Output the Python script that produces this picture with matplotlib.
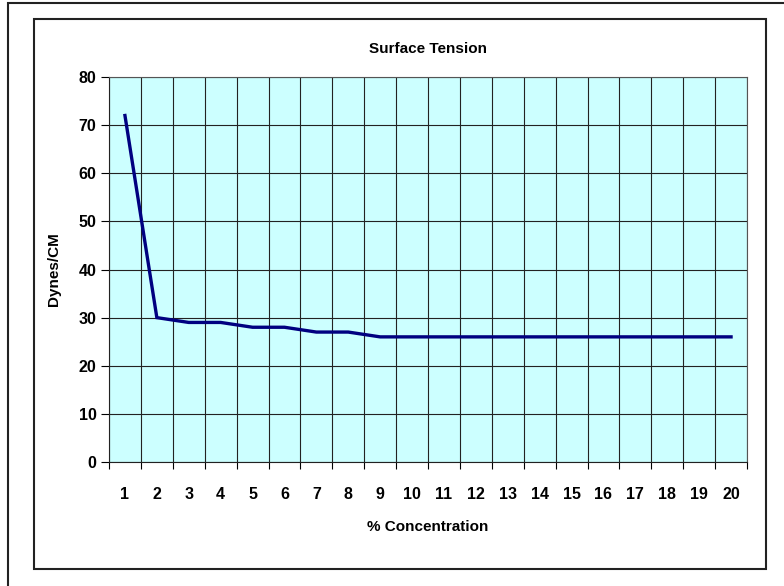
import matplotlib.pyplot as plt
import numpy as np
from matplotlib.patches import Rectangle

plt.rcParams['font.family'] = ['Liberation Sans', 'DejaVu Sans']

# % concentration categories and surface tension readings (dynes/cm)
concentration = [str(i) for i in range(1, 21)]
tension = [72, 30, 29, 29, 28, 28, 27, 27, 26, 26,
           26, 26, 26, 26, 26, 26, 26, 26, 26, 26]
y_ticks = [0, 10, 20, 30, 40, 50, 60, 70, 80]

W, H = 784, 586
fig = plt.figure(figsize=(W / 100, H / 100), dpi=100)

# outer and inner chart borders (excel style)
fig.patches.append(Rectangle((8 / W, -0.1), 1.2, (H - 3) / H + 0.1, transform=fig.transFigure,
                             fill=False, edgecolor='#222222', linewidth=1.5))
fig.patches.append(Rectangle((34 / W, (H - 569) / H), (766 - 34) / W, (569 - 19) / H,
                             transform=fig.transFigure, fill=False, edgecolor='#222222', linewidth=1.5))

left, right, top, bottom = 109, 747, 77, 462
ax = fig.add_axes([left / W, (H - bottom) / H, (right - left) / W, (bottom - top) / H])
ax.set_facecolor('#CCFFFF')

x = np.arange(len(concentration))
ax.plot(x, tension, color='#000080', linewidth=2.4, solid_joinstyle='miter')

ax.set_xlim(-0.5, len(concentration) - 0.5)
ax.set_ylim(0, 80)
ax.set_yticks(y_ticks)
ax.set_xticks(x)
ax.set_xticklabels(concentration, fontsize=11.5, fontweight='bold')
ax.set_xticks(np.arange(len(concentration) + 1) - 0.5, minor=True)
ax.tick_params(axis='x', which='major', length=0, pad=18)
ax.tick_params(axis='x', which='minor', length=5, direction='out', width=0.8)
ax.tick_params(axis='y', length=6, direction='out', width=0.8, pad=3)
for lab in ax.get_yticklabels():
    lab.set_fontsize(11.5)
    lab.set_fontweight('bold')

ax.grid(True, which='minor', axis='x', color='#222222', linewidth=0.8)
ax.grid(True, which='major', axis='y', color='#222222', linewidth=0.8)
ax.set_axisbelow(True)
for s in ax.spines.values():
    s.set_color('#555555')
    s.set_linewidth(0.8)
ax.spines['bottom'].set_color('#222222')
ax.spines['left'].set_color('#222222')

ax.set_title('Surface Tension', fontsize=11, fontweight='bold', pad=17)
ax.set_xlabel('% Concentration', fontsize=11, fontweight='bold', labelpad=13)
ax.set_ylabel('Dynes/CM', fontsize=11, fontweight='bold', labelpad=13)

fig.savefig('out.png', dpi=100)
